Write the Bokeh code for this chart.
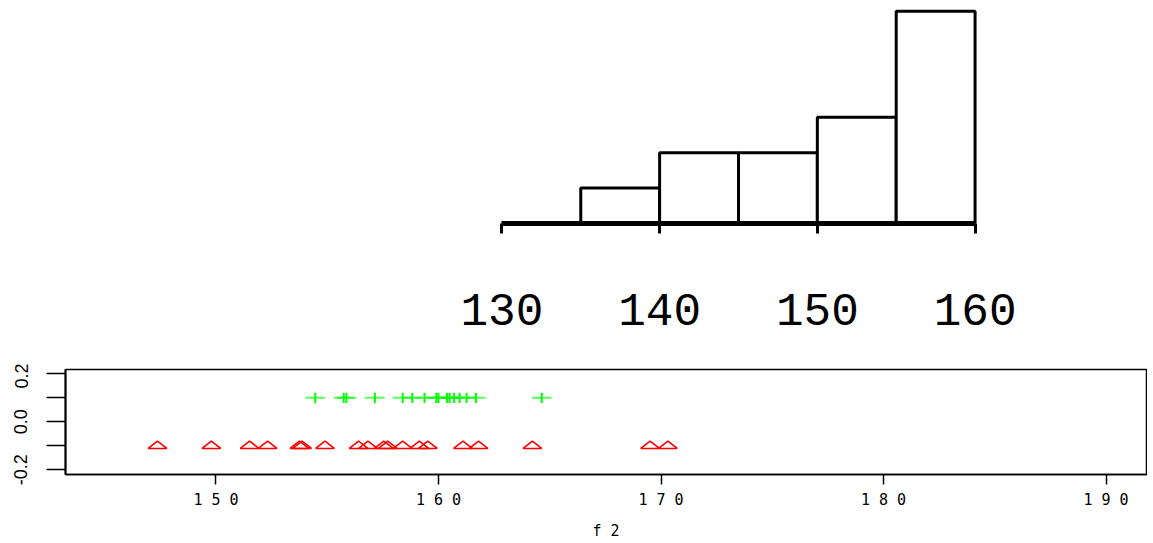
from bokeh.plotting import figure
from bokeh.layouts import column
from bokeh.models import Range1d, LinearAxis, FixedTicker
from bokeh.embed import file_html
from bokeh.resources import INLINE

# ---------------- data ----------------
hist_edges = [130, 135, 140, 145, 150, 155, 160]
hist_counts = [0, 1, 2, 2, 3, 6]
hist_ticks = [130, 140, 150, 160]

green_x = [154.46, 155.74, 155.86, 157.14, 158.39, 158.82, 159.37, 159.90,
           160.00, 160.38, 160.50, 160.70, 160.95, 161.26, 161.68, 164.64]
green_y = 0.1
red_x = [147.37, 149.79, 151.51, 152.32, 153.75, 153.87, 154.90, 156.41,
         156.83, 157.54, 157.72, 158.39, 159.14, 159.52, 161.10, 161.80,
         164.22, 169.51, 170.31]
red_y = -0.1

x_ticks = [150, 160, 170, 180, 190]
x_tick_labels = ["1 5 0", "1 6 0", "1 7 0", "1 8 0", "1 9 0"]
y_ticks = [-0.2, -0.1, 0.0, 0.1, 0.2]
y_tick_labels = ["-0.2", "", "0.0", "", "0.2"]
x_title = "f 2"

# ---------------- top: histogram ----------------
p1 = figure(width=1147, height=363, output_backend="svg", toolbar_location=None,
            x_range=Range1d(102.333, 170.868), y_range=Range1d(0, 6.076),
            x_axis_location=None, y_axis_location=None,
            min_border_left=65, min_border_right=1, min_border_top=8,
            min_border_bottom=140)
p1.outline_line_color = None
p1.xgrid.visible = False
p1.ygrid.visible = False
p1.background_fill_color = "white"

p1.quad(left=hist_edges[:-1], right=hist_edges[1:], bottom=0, top=hist_counts,
        fill_color="white", line_color="black", line_width=3)

ax1 = LinearAxis(ticker=FixedTicker(ticks=hist_ticks), bounds=(130, 160),
                 axis_line_width=5, axis_line_color="black",
                 major_tick_out=10, major_tick_in=0, major_tick_line_width=3,
                 minor_tick_line_color=None,
                 major_label_text_font="Liberation Mono",
                 major_label_text_font_size="46px",
                 major_label_text_color="black",
                 major_label_standoff=60)
p1.add_layout(ax1, "below")

# ---------------- bottom: strip chart ----------------
p2 = figure(width=1147, height=180, output_backend="svg", toolbar_location=None,
            x_range=Range1d(143.236, 191.82), y_range=Range1d(-0.2196, 0.2179),
            x_axis_location=None, y_axis_location=None,
            min_border_left=65, min_border_right=1, min_border_top=6,
            min_border_bottom=69)
p2.xgrid.visible = False
p2.ygrid.visible = False
p2.outline_line_color = "black"
p2.outline_line_width = 1.5
p2.outline_line_alpha = 1.0

# triangles (flattened, as in reference)
tri_hw, tri_up, tri_dn = 0.42, 0.0196, 0.011
tri_xs = [[x - tri_hw, x, x + tri_hw] for x in red_x]
tri_ys = [[red_y - tri_dn, red_y + tri_up, red_y - tri_dn] for _ in red_x]
p2.patches(tri_xs, tri_ys, fill_color=None, line_color="#ff0000", line_width=1.6)

# plus signs
plus_hw, plus_hh = 0.44, 0.0215
p2.segment(x0=[x - plus_hw for x in green_x], y0=[green_y] * len(green_x),
           x1=[x + plus_hw for x in green_x], y1=[green_y] * len(green_x),
           line_color="#00ff00", line_width=2, line_alpha=0.65)
p2.segment(x0=green_x, y0=[green_y - plus_hh] * len(green_x),
           x1=green_x, y1=[green_y + plus_hh] * len(green_x),
           line_color="#00ff00", line_width=2)

xa = LinearAxis(ticker=FixedTicker(ticks=x_ticks),
                major_label_overrides=dict(zip(x_ticks, x_tick_labels)),
                axis_line_width=1.5, axis_line_color="black",
                major_tick_out=10, major_tick_in=0, major_tick_line_width=1.5,
                minor_tick_line_color=None,
                major_label_text_font="DejaVu Sans Mono",
                major_label_text_font_size="15px",
                major_label_text_color="black",
                major_label_standoff=6,
                axis_label=x_title, axis_label_standoff=10,
                axis_label_text_font="DejaVu Sans Mono",
                axis_label_text_font_size="15px",
                axis_label_text_font_style="normal",
                axis_label_text_color="black")
p2.add_layout(xa, "below")

ya = LinearAxis(ticker=FixedTicker(ticks=y_ticks),
                major_label_overrides=dict(zip(y_ticks, y_tick_labels)),
                axis_line_width=2, axis_line_color="black",
                major_tick_out=19, major_tick_in=0, major_tick_line_width=1.5,
                minor_tick_line_color=None,
                major_label_orientation="parallel",
                major_label_text_font="Liberation Sans",
                major_label_text_font_size="18px",
                major_label_text_color="black",
                major_label_standoff=19)
p2.add_layout(ya, "left")

layout = column(p1, p2, spacing=0)
open("out.html", "w").write(file_html(layout, INLINE))
